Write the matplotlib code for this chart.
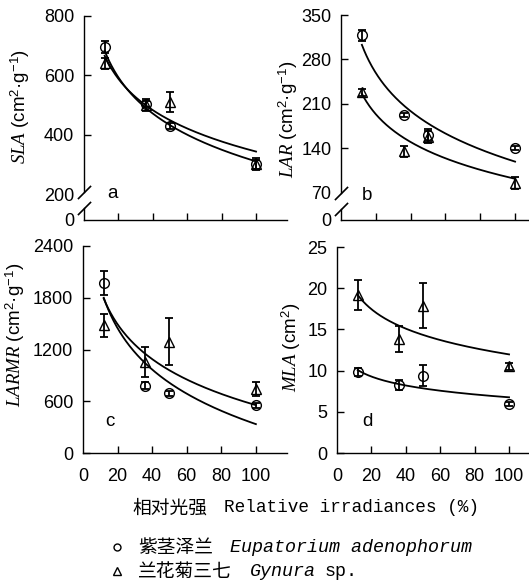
import numpy as np
import matplotlib
matplotlib.use('Agg')
import matplotlib.pyplot as plt
from matplotlib.lines import Line2D

plt.rcParams['font.family'] = ['Liberation Sans', 'DejaVu Sans']
plt.rcParams['mathtext.fontset'] = 'custom'
plt.rcParams['mathtext.it'] = 'Liberation Serif:italic'
plt.rcParams['mathtext.rm'] = 'Liberation Sans'

W, H = 529, 588

# ---------------- data ----------------
irradiance = [12, 36, 50, 100]
x_ticks = [0, 20, 40, 60, 80, 100]

sla_eup = [695, 502, 428, 300]
sla_eup_err = [20, 10, 10, 20]
sla_gyn = [640, 500, 510, 300]
sla_gyn_err = [20, 20, 33, 15]

lar_eup = [318, 193, 161, 141]
lar_eup_err = [9, 3, 9, 3]
lar_gyn = [228, 135, 158, 85]
lar_gyn_err = [6, 9, 9, 9]

larmr_eup = [1970, 780, 690, 555]
larmr_eup_err = [135, 40, 30, 30]
larmr_gyn = [1480, 1060, 1290, 740]
larmr_gyn_err = [135, 174, 271, 80]

mla_eup = [9.8, 8.3, 9.4, 5.95]
mla_eup_err = [0.5, 0.6, 1.25, 0.3]
mla_gyn = [19.2, 13.85, 17.9, 10.5]
mla_gyn_err = [1.8, 1.6, 2.75, 0.45]

# fitted regression curves: y = a + b*ln(x)
fit_sla_eup = (1120.1, -175.9)
fit_sla_gyn = (1044.5, -152.3)
fit_lar_eup = (518.7, -86.8)
fit_lar_gyn = (383.0, -63.2)
fit_larmr_eup = (3517.0, -691.0)
fit_larmr_gyn = (3237.5, -582.5)
fit_mla_eup = (13.97, -1.566)
fit_mla_gyn = (27.67, -3.41)

# y tick labels
sla_ticklabels = ['0', '200', '400', '600', '800']
lar_ticklabels = ['0', '70', '140', '210', '280', '350']
larmr_ticks = [0, 600, 1200, 1800, 2400]
mla_ticks = [0, 5, 10, 15, 20, 25]

fig = plt.figure(figsize=(W / 100, H / 100), dpi=100)


def rect(left, top, width, bottom):
    return [left / W, 1 - bottom / H, width / W, (bottom - top) / H]


ax_a = fig.add_axes(rect(84, 16, 203, 220))
ax_b = fig.add_axes(rect(341, 15, 188, 220))
ax_c = fig.add_axes(rect(83, 246, 204, 453))
ax_d = fig.add_axes(rect(337, 247, 192, 453))

TICK_FS = 13


def style(ax, xmax, show_xlabels):
    ax.set_xlim(0, xmax)
    for s in ('top', 'right'):
        ax.spines[s].set_visible(False)
    for s in ('left', 'bottom'):
        ax.spines[s].set_linewidth(1.0)
    ax.set_xticks(x_ticks)
    ax.tick_params(direction='in', length=5, width=1.0, labelsize=TICK_FS)
    ax.tick_params(axis='y', pad=7)
    ax.tick_params(axis='x', pad=11)
    if not show_xlabels:
        ax.set_xticklabels([])
    ax.xaxis.get_major_ticks()[0].tick1line.set_visible(False)


def draw(ax, e, e_err, g, g_err, fe, fg):
    xs = np.linspace(min(irradiance), max(irradiance), 200)
    ax.plot(xs, fe[0] + fe[1] * np.log(xs), color='k', lw=1.3)
    ax.plot(xs, fg[0] + fg[1] * np.log(xs), color='k', lw=1.3)
    ax.errorbar(irradiance, e, yerr=e_err, fmt='none', ecolor='k',
                elinewidth=1.3, capsize=3, capthick=1.3)
    ax.errorbar(irradiance, g, yerr=g_err, fmt='none', ecolor='k',
                elinewidth=1.3, capsize=3, capthick=1.3)
    ax.plot(irradiance, e, 'o', mfc='none', mec='k', ms=7, mew=1.0)
    ax.plot(irradiance, g, '^', mfc='none', mec='k', ms=7.5, mew=1.0)


def broken(ax, ticks, labels, low, brk_hi, brk_lo):
    ax.set_ylim(low, ticks[-1])
    ax.set_yticks(ticks)
    ax.set_yticklabels(labels)
    ax.spines['left'].set_bounds(brk_hi, ticks[-1])
    tr = ax.get_yaxis_transform()
    ax.plot([0, 0], [low, brk_lo], color='k', lw=1.0, transform=tr,
            clip_on=False)
    for yv in (brk_hi, brk_lo):
        ax.plot([0], [yv], marker=[(-1, -1), (1, 1)], ms=9.5, mew=1.2,
                color='k', transform=tr, clip_on=False)
    for t in ax.yaxis.get_major_ticks()[:2]:
        t.tick1line.set_visible(False)


# panel a
style(ax_a, 118, False)
draw(ax_a, sla_eup, sla_eup_err, sla_gyn, sla_gyn_err, fit_sla_eup, fit_sla_gyn)
broken(ax_a, [112.5, 200, 400, 600, 800], sla_ticklabels, 112.5, 208, 152)

# panel b
style(ax_b, 108, False)
draw(ax_b, lar_eup, lar_eup_err, lar_gyn, lar_gyn_err, fit_lar_eup, fit_lar_gyn)
broken(ax_b, [27, 70, 140, 210, 280, 350], lar_ticklabels, 27, 70, 44)

# panel c
style(ax_c, 118, True)
draw(ax_c, larmr_eup, larmr_eup_err, larmr_gyn, larmr_gyn_err,
     fit_larmr_eup, fit_larmr_gyn)
ax_c.set_ylim(0, 2400)
ax_c.set_yticks(larmr_ticks)

# panel d
style(ax_d, 111.6, True)
draw(ax_d, mla_eup, mla_eup_err, mla_gyn, mla_gyn_err, fit_mla_eup, fit_mla_gyn)
ax_d.set_ylim(0, 25)
ax_d.set_yticks(mla_ticks)


def P(x, y):
    return x / W, 1 - y / H


# y labels
ylabels = [
    (r"$\mathit{SLA}$ (cm$^{2}$·g$^{-1}$)", 20, 107),
    (r"$\mathit{LAR}$ (cm$^{2}$·g$^{-1}$)", 288, 119),
    (r"$\mathit{LARMR}$ (cm$^{2}$·g$^{-1}$)", 15, 335),
    (r"$\mathit{MLA}$ (cm$^{2}$)", 291, 347),
]
for txt, x, y in ylabels:
    fig.text(*P(x, y), txt, rotation=90, ha='center', va='center',
             fontsize=13.5)

# panel letters
for lab, x, y in [('a', 112, 194), ('b', 367, 195), ('c', 110, 422),
                  ('d', 367, 422)]:
    fig.text(*P(x, y), lab, ha='center', va='center', fontsize=13.5)

# x label
fig.text(*P(132, 508), '相对光强', ha='left', va='center', fontsize=13.5,
         family=['Noto Sans CJK SC'])
fig.text(*P(224, 508), 'Relative irradiances (%)', ha='left',
         va='center', fontsize=12.8, family='Liberation Mono')

# legend
fig.add_artist(Line2D([117 / W], [1 - 547 / H], marker='o', ms=5,
                      mfc='none', mec='k', mew=1.0, transform=fig.transFigure))
fig.add_artist(Line2D([117 / W], [1 - 571 / H], marker='^', ms=5.5,
                      mfc='none', mec='k', mew=1.0, transform=fig.transFigure))
fig.text(*P(138, 547), '紫茎泽兰', ha='left', va='center', fontsize=13.5,
         family=['Noto Sans CJK SC'])
fig.text(*P(230, 547), 'Eupatorium adenophorum', ha='left', va='center',
         fontsize=13.2, family='Liberation Mono', style='italic')
fig.text(*P(138, 571), '兰花菊三七', ha='left', va='center', fontsize=13.5,
         family=['Noto Sans CJK SC'])
fig.text(*P(250, 571), 'Gynura', ha='left', va='center',
         fontsize=13.2, family='Liberation Mono', style='italic')
fig.text(*P(325, 571), 'sp.', ha='left', va='center',
         fontsize=13.2, family='Liberation Mono')

fig.savefig('out.png', dpi=100)
